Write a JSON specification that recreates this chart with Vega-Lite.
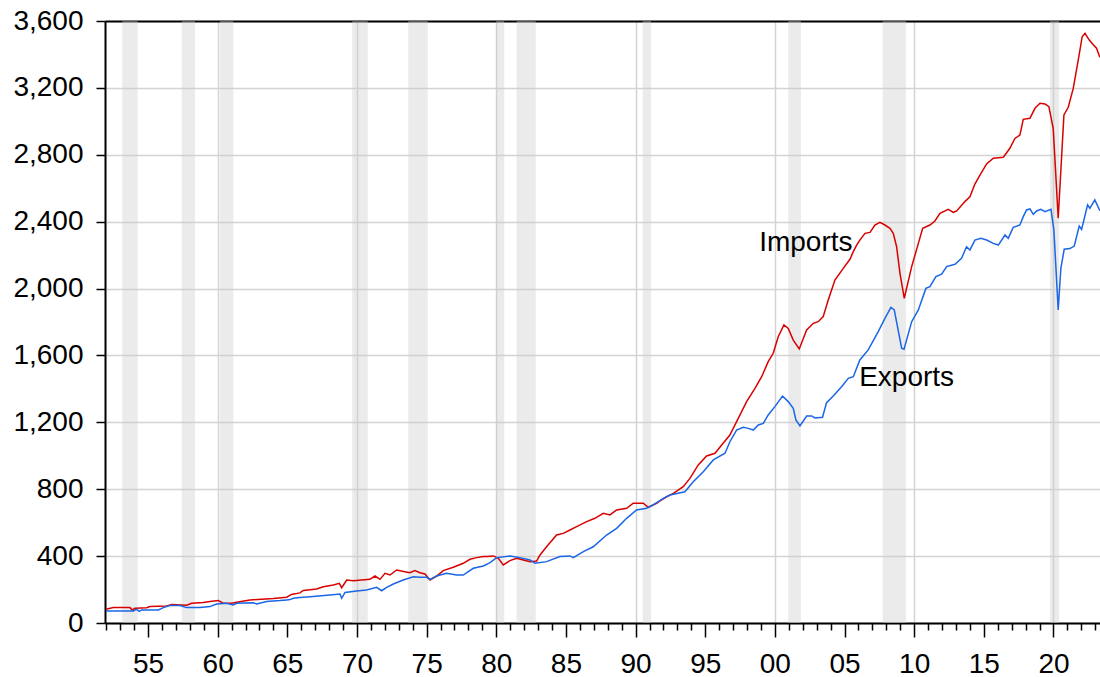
{
  "$schema": "https://vega.github.io/schema/vega-lite/v6.json",
  "width": 995,
  "height": 602,
  "autosize": {"type": "none"},
  "padding": {"left": 105, "top": 21, "right": 0, "bottom": 54},
  "background": "white",
  "config": {"view": {"stroke": null}, "font": "Liberation Sans"},
  "datasets": {
    "rec": [
      {"start": 1953.15, "end": 1954.26},
      {"start": 1957.42, "end": 1958.37},
      {"start": 1960.17, "end": 1961.12},
      {"start": 1969.66, "end": 1970.77},
      {"start": 1973.68, "end": 1975.08},
      {"start": 1979.98, "end": 1980.57},
      {"start": 1981.46, "end": 1982.83},
      {"start": 1990.51, "end": 1991.11},
      {"start": 2000.96, "end": 2001.87},
      {"start": 2007.74, "end": 2009.41},
      {"start": 2019.75, "end": 2020.40}
    ],
    "labels": [
      {"t": 1998.87, "v": 2225, "label": "Imports"},
      {"t": 2006.05, "v": 1419, "label": "Exports"}
    ],
    "series": [
      {"s": "Imports", "t": 1951.98, "v": 82},
      {"s": "Imports", "t": 1952.51, "v": 92},
      {"s": "Imports", "t": 1953.70, "v": 92},
      {"s": "Imports", "t": 1953.87, "v": 78},
      {"s": "Imports", "t": 1954.06, "v": 88},
      {"s": "Imports", "t": 1954.90, "v": 91},
      {"s": "Imports", "t": 1955.14, "v": 98},
      {"s": "Imports", "t": 1956.33, "v": 102},
      {"s": "Imports", "t": 1956.70, "v": 110},
      {"s": "Imports", "t": 1957.77, "v": 106},
      {"s": "Imports", "t": 1958.13, "v": 118},
      {"s": "Imports", "t": 1958.97, "v": 122},
      {"s": "Imports", "t": 1959.45, "v": 128},
      {"s": "Imports", "t": 1960.04, "v": 134},
      {"s": "Imports", "t": 1960.40, "v": 118},
      {"s": "Imports", "t": 1961.00, "v": 118},
      {"s": "Imports", "t": 1961.36, "v": 124},
      {"s": "Imports", "t": 1962.32, "v": 138},
      {"s": "Imports", "t": 1963.99, "v": 146},
      {"s": "Imports", "t": 1964.95, "v": 154},
      {"s": "Imports", "t": 1965.30, "v": 171},
      {"s": "Imports", "t": 1965.90, "v": 180},
      {"s": "Imports", "t": 1966.15, "v": 195},
      {"s": "Imports", "t": 1967.10, "v": 203},
      {"s": "Imports", "t": 1967.58, "v": 217},
      {"s": "Imports", "t": 1968.30, "v": 227},
      {"s": "Imports", "t": 1968.73, "v": 237},
      {"s": "Imports", "t": 1968.90, "v": 211},
      {"s": "Imports", "t": 1969.26, "v": 257},
      {"s": "Imports", "t": 1969.74, "v": 253},
      {"s": "Imports", "t": 1970.93, "v": 261},
      {"s": "Imports", "t": 1971.29, "v": 281},
      {"s": "Imports", "t": 1971.65, "v": 261},
      {"s": "Imports", "t": 1972.01, "v": 297},
      {"s": "Imports", "t": 1972.37, "v": 287},
      {"s": "Imports", "t": 1972.85, "v": 317},
      {"s": "Imports", "t": 1973.44, "v": 307},
      {"s": "Imports", "t": 1973.80, "v": 301},
      {"s": "Imports", "t": 1974.16, "v": 313},
      {"s": "Imports", "t": 1974.52, "v": 301},
      {"s": "Imports", "t": 1974.88, "v": 293},
      {"s": "Imports", "t": 1975.24, "v": 257},
      {"s": "Imports", "t": 1975.72, "v": 281},
      {"s": "Imports", "t": 1976.19, "v": 313},
      {"s": "Imports", "t": 1976.91, "v": 333},
      {"s": "Imports", "t": 1977.63, "v": 357},
      {"s": "Imports", "t": 1978.11, "v": 381},
      {"s": "Imports", "t": 1978.59, "v": 391},
      {"s": "Imports", "t": 1979.07, "v": 397},
      {"s": "Imports", "t": 1979.31, "v": 397},
      {"s": "Imports", "t": 1979.79, "v": 401},
      {"s": "Imports", "t": 1980.15, "v": 387},
      {"s": "Imports", "t": 1980.50, "v": 347},
      {"s": "Imports", "t": 1980.98, "v": 373},
      {"s": "Imports", "t": 1981.46, "v": 387},
      {"s": "Imports", "t": 1981.94, "v": 377},
      {"s": "Imports", "t": 1982.42, "v": 367},
      {"s": "Imports", "t": 1982.90, "v": 371},
      {"s": "Imports", "t": 1983.14, "v": 407},
      {"s": "Imports", "t": 1983.61, "v": 456},
      {"s": "Imports", "t": 1984.33, "v": 526},
      {"s": "Imports", "t": 1984.81, "v": 536},
      {"s": "Imports", "t": 1985.29, "v": 556},
      {"s": "Imports", "t": 1985.77, "v": 576},
      {"s": "Imports", "t": 1986.49, "v": 606},
      {"s": "Imports", "t": 1987.08, "v": 626},
      {"s": "Imports", "t": 1987.68, "v": 656},
      {"s": "Imports", "t": 1988.16, "v": 646},
      {"s": "Imports", "t": 1988.64, "v": 676},
      {"s": "Imports", "t": 1989.36, "v": 686},
      {"s": "Imports", "t": 1989.83, "v": 716},
      {"s": "Imports", "t": 1990.55, "v": 716},
      {"s": "Imports", "t": 1990.91, "v": 692},
      {"s": "Imports", "t": 1991.51, "v": 716},
      {"s": "Imports", "t": 1991.75, "v": 730},
      {"s": "Imports", "t": 1992.23, "v": 755},
      {"s": "Imports", "t": 1992.71, "v": 775},
      {"s": "Imports", "t": 1993.42, "v": 815},
      {"s": "Imports", "t": 1993.90, "v": 865},
      {"s": "Imports", "t": 1994.50, "v": 945},
      {"s": "Imports", "t": 1995.10, "v": 999},
      {"s": "Imports", "t": 1995.70, "v": 1015},
      {"s": "Imports", "t": 1996.18, "v": 1064},
      {"s": "Imports", "t": 1996.77, "v": 1124},
      {"s": "Imports", "t": 1997.37, "v": 1224},
      {"s": "Imports", "t": 1997.97, "v": 1324},
      {"s": "Imports", "t": 1998.57, "v": 1403},
      {"s": "Imports", "t": 1999.05, "v": 1473},
      {"s": "Imports", "t": 1999.52, "v": 1563},
      {"s": "Imports", "t": 1999.88, "v": 1613},
      {"s": "Imports", "t": 2000.24, "v": 1712},
      {"s": "Imports", "t": 2000.65, "v": 1782},
      {"s": "Imports", "t": 2000.96, "v": 1762},
      {"s": "Imports", "t": 2001.32, "v": 1692},
      {"s": "Imports", "t": 2001.75, "v": 1639},
      {"s": "Imports", "t": 2002.28, "v": 1752},
      {"s": "Imports", "t": 2002.76, "v": 1792},
      {"s": "Imports", "t": 2003.11, "v": 1802},
      {"s": "Imports", "t": 2003.47, "v": 1832},
      {"s": "Imports", "t": 2003.83, "v": 1932},
      {"s": "Imports", "t": 2004.31, "v": 2051},
      {"s": "Imports", "t": 2004.91, "v": 2121},
      {"s": "Imports", "t": 2005.39, "v": 2175},
      {"s": "Imports", "t": 2005.63, "v": 2221},
      {"s": "Imports", "t": 2005.87, "v": 2260},
      {"s": "Imports", "t": 2006.10, "v": 2290},
      {"s": "Imports", "t": 2006.47, "v": 2330},
      {"s": "Imports", "t": 2006.83, "v": 2336},
      {"s": "Imports", "t": 2007.18, "v": 2380},
      {"s": "Imports", "t": 2007.54, "v": 2396},
      {"s": "Imports", "t": 2007.90, "v": 2380},
      {"s": "Imports", "t": 2008.26, "v": 2360},
      {"s": "Imports", "t": 2008.50, "v": 2330},
      {"s": "Imports", "t": 2008.74, "v": 2250},
      {"s": "Imports", "t": 2008.98, "v": 2091},
      {"s": "Imports", "t": 2009.29, "v": 1942},
      {"s": "Imports", "t": 2009.82, "v": 2131},
      {"s": "Imports", "t": 2010.30, "v": 2270},
      {"s": "Imports", "t": 2010.61, "v": 2360},
      {"s": "Imports", "t": 2011.13, "v": 2380},
      {"s": "Imports", "t": 2011.49, "v": 2404},
      {"s": "Imports", "t": 2011.85, "v": 2450},
      {"s": "Imports", "t": 2012.45, "v": 2474},
      {"s": "Imports", "t": 2012.81, "v": 2456},
      {"s": "Imports", "t": 2013.05, "v": 2464},
      {"s": "Imports", "t": 2013.64, "v": 2520},
      {"s": "Imports", "t": 2014.00, "v": 2549},
      {"s": "Imports", "t": 2014.36, "v": 2625},
      {"s": "Imports", "t": 2014.72, "v": 2679},
      {"s": "Imports", "t": 2015.20, "v": 2745},
      {"s": "Imports", "t": 2015.68, "v": 2779},
      {"s": "Imports", "t": 2016.40, "v": 2785},
      {"s": "Imports", "t": 2016.87, "v": 2839},
      {"s": "Imports", "t": 2017.23, "v": 2898},
      {"s": "Imports", "t": 2017.59, "v": 2918},
      {"s": "Imports", "t": 2017.83, "v": 3012},
      {"s": "Imports", "t": 2018.31, "v": 3018},
      {"s": "Imports", "t": 2018.67, "v": 3078},
      {"s": "Imports", "t": 2019.03, "v": 3108},
      {"s": "Imports", "t": 2019.39, "v": 3104},
      {"s": "Imports", "t": 2019.67, "v": 3088},
      {"s": "Imports", "t": 2019.98, "v": 2958},
      {"s": "Imports", "t": 2020.34, "v": 2420},
      {"s": "Imports", "t": 2020.75, "v": 3038},
      {"s": "Imports", "t": 2021.06, "v": 3084},
      {"s": "Imports", "t": 2021.42, "v": 3197},
      {"s": "Imports", "t": 2021.78, "v": 3367},
      {"s": "Imports", "t": 2022.06, "v": 3506},
      {"s": "Imports", "t": 2022.26, "v": 3526},
      {"s": "Imports", "t": 2022.57, "v": 3486},
      {"s": "Imports", "t": 2022.81, "v": 3462},
      {"s": "Imports", "t": 2023.09, "v": 3437},
      {"s": "Imports", "t": 2023.33, "v": 3383},
      {"s": "Exports", "t": 1951.98, "v": 72},
      {"s": "Exports", "t": 1953.94, "v": 72},
      {"s": "Exports", "t": 1954.18, "v": 82},
      {"s": "Exports", "t": 1954.37, "v": 70},
      {"s": "Exports", "t": 1954.54, "v": 78},
      {"s": "Exports", "t": 1955.74, "v": 78},
      {"s": "Exports", "t": 1956.10, "v": 92},
      {"s": "Exports", "t": 1956.57, "v": 104},
      {"s": "Exports", "t": 1957.29, "v": 104},
      {"s": "Exports", "t": 1957.77, "v": 92},
      {"s": "Exports", "t": 1958.73, "v": 92},
      {"s": "Exports", "t": 1959.45, "v": 98},
      {"s": "Exports", "t": 1959.92, "v": 114},
      {"s": "Exports", "t": 1960.64, "v": 118},
      {"s": "Exports", "t": 1961.12, "v": 108},
      {"s": "Exports", "t": 1961.36, "v": 118},
      {"s": "Exports", "t": 1962.56, "v": 121},
      {"s": "Exports", "t": 1962.80, "v": 114},
      {"s": "Exports", "t": 1963.51, "v": 128},
      {"s": "Exports", "t": 1964.47, "v": 134},
      {"s": "Exports", "t": 1964.95, "v": 138},
      {"s": "Exports", "t": 1965.19, "v": 140},
      {"s": "Exports", "t": 1965.43, "v": 148},
      {"s": "Exports", "t": 1965.90, "v": 152},
      {"s": "Exports", "t": 1966.63, "v": 157},
      {"s": "Exports", "t": 1968.06, "v": 167},
      {"s": "Exports", "t": 1968.78, "v": 173},
      {"s": "Exports", "t": 1968.90, "v": 148},
      {"s": "Exports", "t": 1969.14, "v": 183},
      {"s": "Exports", "t": 1969.98, "v": 191},
      {"s": "Exports", "t": 1970.69, "v": 197},
      {"s": "Exports", "t": 1971.41, "v": 213},
      {"s": "Exports", "t": 1971.77, "v": 193},
      {"s": "Exports", "t": 1972.13, "v": 213},
      {"s": "Exports", "t": 1972.61, "v": 233},
      {"s": "Exports", "t": 1973.32, "v": 257},
      {"s": "Exports", "t": 1974.04, "v": 277},
      {"s": "Exports", "t": 1974.52, "v": 273},
      {"s": "Exports", "t": 1975.00, "v": 273},
      {"s": "Exports", "t": 1975.24, "v": 261},
      {"s": "Exports", "t": 1975.72, "v": 281},
      {"s": "Exports", "t": 1976.43, "v": 297},
      {"s": "Exports", "t": 1977.15, "v": 287},
      {"s": "Exports", "t": 1977.63, "v": 287},
      {"s": "Exports", "t": 1977.99, "v": 307},
      {"s": "Exports", "t": 1978.35, "v": 327},
      {"s": "Exports", "t": 1979.07, "v": 341},
      {"s": "Exports", "t": 1979.55, "v": 361},
      {"s": "Exports", "t": 1980.03, "v": 391},
      {"s": "Exports", "t": 1980.98, "v": 401},
      {"s": "Exports", "t": 1981.70, "v": 391},
      {"s": "Exports", "t": 1982.42, "v": 377},
      {"s": "Exports", "t": 1982.78, "v": 357},
      {"s": "Exports", "t": 1983.61, "v": 367},
      {"s": "Exports", "t": 1984.57, "v": 397},
      {"s": "Exports", "t": 1985.29, "v": 401},
      {"s": "Exports", "t": 1985.53, "v": 391},
      {"s": "Exports", "t": 1986.25, "v": 427},
      {"s": "Exports", "t": 1986.96, "v": 456},
      {"s": "Exports", "t": 1987.92, "v": 526},
      {"s": "Exports", "t": 1988.64, "v": 566},
      {"s": "Exports", "t": 1989.36, "v": 626},
      {"s": "Exports", "t": 1990.07, "v": 676},
      {"s": "Exports", "t": 1990.79, "v": 686},
      {"s": "Exports", "t": 1991.27, "v": 706},
      {"s": "Exports", "t": 1991.99, "v": 745},
      {"s": "Exports", "t": 1992.47, "v": 765},
      {"s": "Exports", "t": 1993.54, "v": 785},
      {"s": "Exports", "t": 1994.14, "v": 845},
      {"s": "Exports", "t": 1994.86, "v": 905},
      {"s": "Exports", "t": 1995.58, "v": 975},
      {"s": "Exports", "t": 1996.42, "v": 1015},
      {"s": "Exports", "t": 1996.77, "v": 1084},
      {"s": "Exports", "t": 1997.25, "v": 1154},
      {"s": "Exports", "t": 1997.73, "v": 1170},
      {"s": "Exports", "t": 1998.09, "v": 1164},
      {"s": "Exports", "t": 1998.45, "v": 1154},
      {"s": "Exports", "t": 1998.81, "v": 1184},
      {"s": "Exports", "t": 1999.17, "v": 1194},
      {"s": "Exports", "t": 1999.52, "v": 1244},
      {"s": "Exports", "t": 2000.00, "v": 1294},
      {"s": "Exports", "t": 2000.55, "v": 1357},
      {"s": "Exports", "t": 2000.96, "v": 1324},
      {"s": "Exports", "t": 2001.32, "v": 1284},
      {"s": "Exports", "t": 2001.51, "v": 1214},
      {"s": "Exports", "t": 2001.80, "v": 1178},
      {"s": "Exports", "t": 2002.28, "v": 1238},
      {"s": "Exports", "t": 2002.64, "v": 1238},
      {"s": "Exports", "t": 2002.87, "v": 1226},
      {"s": "Exports", "t": 2003.42, "v": 1230},
      {"s": "Exports", "t": 2003.71, "v": 1318},
      {"s": "Exports", "t": 2004.19, "v": 1357},
      {"s": "Exports", "t": 2004.79, "v": 1413},
      {"s": "Exports", "t": 2005.27, "v": 1463},
      {"s": "Exports", "t": 2005.63, "v": 1473},
      {"s": "Exports", "t": 2006.10, "v": 1573},
      {"s": "Exports", "t": 2006.70, "v": 1633},
      {"s": "Exports", "t": 2007.42, "v": 1742},
      {"s": "Exports", "t": 2007.90, "v": 1822},
      {"s": "Exports", "t": 2008.33, "v": 1888},
      {"s": "Exports", "t": 2008.57, "v": 1872},
      {"s": "Exports", "t": 2009.10, "v": 1643},
      {"s": "Exports", "t": 2009.27, "v": 1637},
      {"s": "Exports", "t": 2009.82, "v": 1802},
      {"s": "Exports", "t": 2010.30, "v": 1872},
      {"s": "Exports", "t": 2010.84, "v": 2001},
      {"s": "Exports", "t": 2011.13, "v": 2011},
      {"s": "Exports", "t": 2011.56, "v": 2071},
      {"s": "Exports", "t": 2011.97, "v": 2086},
      {"s": "Exports", "t": 2012.33, "v": 2131},
      {"s": "Exports", "t": 2012.93, "v": 2145},
      {"s": "Exports", "t": 2013.40, "v": 2181},
      {"s": "Exports", "t": 2013.76, "v": 2250},
      {"s": "Exports", "t": 2014.00, "v": 2231},
      {"s": "Exports", "t": 2014.36, "v": 2290},
      {"s": "Exports", "t": 2014.79, "v": 2300},
      {"s": "Exports", "t": 2015.20, "v": 2290},
      {"s": "Exports", "t": 2015.68, "v": 2270},
      {"s": "Exports", "t": 2016.04, "v": 2260},
      {"s": "Exports", "t": 2016.52, "v": 2320},
      {"s": "Exports", "t": 2016.75, "v": 2300},
      {"s": "Exports", "t": 2017.11, "v": 2366},
      {"s": "Exports", "t": 2017.59, "v": 2380},
      {"s": "Exports", "t": 2017.83, "v": 2430},
      {"s": "Exports", "t": 2018.07, "v": 2470},
      {"s": "Exports", "t": 2018.31, "v": 2476},
      {"s": "Exports", "t": 2018.55, "v": 2444},
      {"s": "Exports", "t": 2018.79, "v": 2464},
      {"s": "Exports", "t": 2019.10, "v": 2474},
      {"s": "Exports", "t": 2019.39, "v": 2460},
      {"s": "Exports", "t": 2019.82, "v": 2474},
      {"s": "Exports", "t": 2020.03, "v": 2350},
      {"s": "Exports", "t": 2020.34, "v": 1872},
      {"s": "Exports", "t": 2020.53, "v": 2121},
      {"s": "Exports", "t": 2020.77, "v": 2235},
      {"s": "Exports", "t": 2021.18, "v": 2239},
      {"s": "Exports", "t": 2021.49, "v": 2254},
      {"s": "Exports", "t": 2021.85, "v": 2374},
      {"s": "Exports", "t": 2022.02, "v": 2354},
      {"s": "Exports", "t": 2022.45, "v": 2500},
      {"s": "Exports", "t": 2022.61, "v": 2480},
      {"s": "Exports", "t": 2022.97, "v": 2530},
      {"s": "Exports", "t": 2023.33, "v": 2466}
    ]
  },
  "layer": [
    {
      "data": {"name": "rec"},
      "mark": {"type": "rect", "color": "#cccccc", "opacity": 0.4},
      "encoding": {
        "x": {
          "field": "start", "type": "quantitative",
          "scale": {"domain": [1951.91, 2023.34], "nice": false, "zero": false},
          "axis": {"orient": "top", "title": null, "labels": false, "ticks": false, "grid": false, "domainColor": "black", "domainWidth": 2}
        },
        "x2": {"field": "end"}
      }
    },
    {
      "data": {"name": "series"},
      "mark": {"type": "line", "strokeWidth": 1.5},
      "encoding": {
        "x": {
          "field": "t", "type": "quantitative",
          "scale": {"domain": [1951.91, 2023.34], "nice": false, "zero": false},
          "axis": {
            "orient": "bottom", "title": null,
            "values": [1952,1953,1954,1955,1956,1957,1958,1959,1960,1961,1962,1963,1964,1965,1966,1967,1968,1969,1970,1971,1972,1973,1974,1975,1976,1977,1978,1979,1980,1981,1982,1983,1984,1985,1986,1987,1988,1989,1990,1991,1992,1993,1994,1995,1996,1997,1998,1999,2000,2001,2002,2003,2004,2005,2006,2007,2008,2009,2010,2011,2012,2013,2014,2015,2016,2017,2018,2019,2020,2021,2022,2023],
            "format": "d",
            "labelExpr": "datum.value % 5 === 0 ? slice(datum.label, 2) : ''",
            "labelFontSize": 28, "labelColor": "black", "labelFont": "Liberation Sans",
            "labelPadding": 13, "labelOverlap": false, "labelFlush": false, "labelBound": false,
            "tickColor": "black", "tickWidth": 1.5,
            "tickSize": {"condition": {"test": "datum.value % 5 === 0", "value": 14}, "value": 7},
            "domainColor": "black", "domainWidth": 2,
            "grid": true, "gridColor": "#d3d3d3", "gridWidth": 1.5,
            "gridOpacity": {"condition": {"test": "datum.value % 10 === 0", "value": 1}, "value": 0}
          }
        },
        "y": {
          "field": "v", "type": "quantitative",
          "scale": {"domain": [0, 3600], "nice": false},
          "axis": {
            "title": null, "values": [0,400,800,1200,1600,2000,2400,2800,3200,3600], "format": ",.0f",
            "labelFontSize": 28, "labelColor": "black", "labelFont": "Liberation Sans", "labelPadding": 13,
            "labelFlush": false, "labelBound": false, "labelOverlap": false,
            "tickSize": 9, "tickColor": "black", "tickWidth": 1.5,
            "domainColor": "black", "domainWidth": 2,
            "grid": true, "gridColor": "#d3d3d3", "gridWidth": 1.5
          }
        },
        "color": {"field": "s", "type": "nominal", "scale": {"domain": ["Imports", "Exports"], "range": ["#d90000", "#1a66e6"]}, "legend": null}
      }
    },
    {
      "data": {"name": "labels"},
      "mark": {"type": "text", "align": "left", "baseline": "alphabetic", "fontSize": 28, "font": "Liberation Sans", "color": "black"},
      "encoding": {
        "x": {"field": "t", "type": "quantitative", "scale": {"domain": [1951.91, 2023.34], "nice": false, "zero": false}, "axis": null},
        "y": {"field": "v", "type": "quantitative", "title": null, "axis": {"format": ",.0f"}},
        "text": {"field": "label"}
      }
    }
  ],
  "resolve": {"axis": {"x": "independent"}}
}
